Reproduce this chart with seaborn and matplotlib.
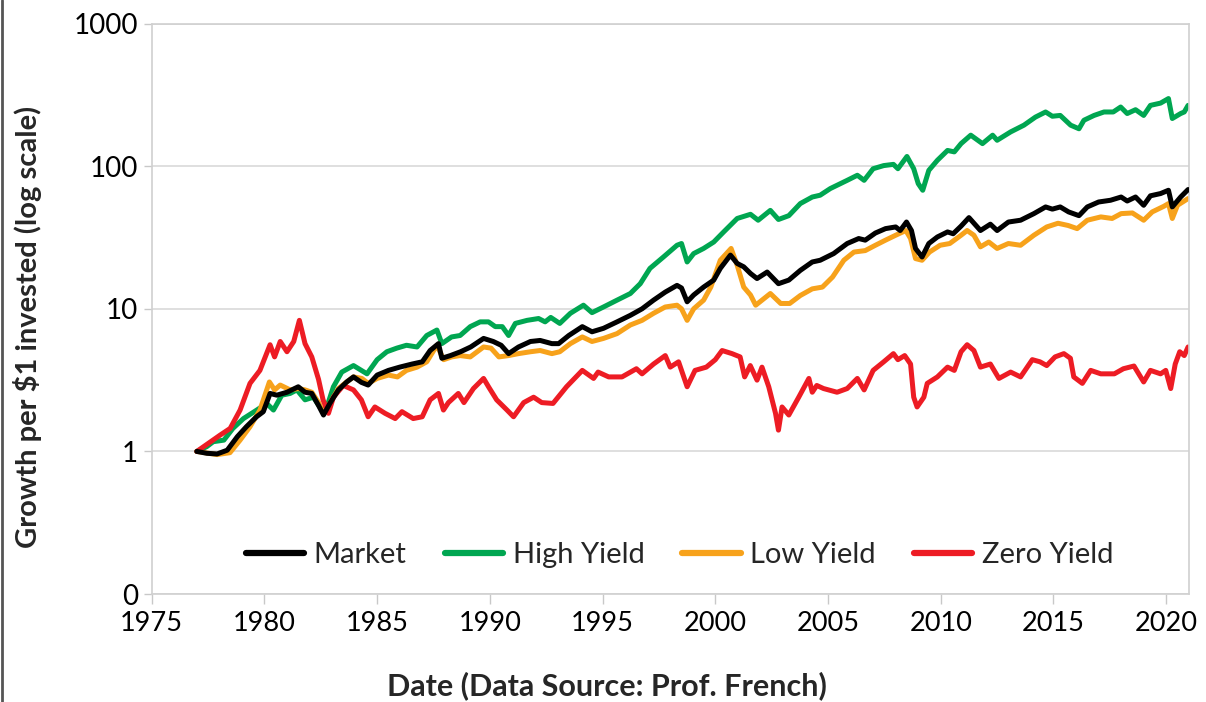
import matplotlib
matplotlib.use("Agg")

import matplotlib.pyplot as plt
import numpy as np
import pandas as pd
import seaborn as sns
from matplotlib.lines import Line2D
from matplotlib.ticker import FixedLocator, FixedFormatter, NullLocator

# values (growth of $1, log scale)
market_years = [
    1977.0, 1977.45, 1977.9, 1978.35, 1978.8, 1979.2, 1979.65, 1979.95, 1980.25, 1980.55,
    1981.0, 1981.5, 1981.8, 1982.1, 1982.4, 1982.62, 1982.9, 1983.28, 1983.65, 1983.95,
    1984.3, 1984.6, 1985.0, 1985.5, 1986.0, 1986.55, 1987.0, 1987.35, 1987.72, 1987.87,
    1988.25, 1988.7, 1989.15, 1989.72, 1990.15, 1990.5, 1990.83, 1991.27, 1991.8, 1992.23,
    1992.75, 1993.05, 1993.5, 1994.1, 1994.53, 1995.04, 1995.64, 1996.23, 1996.75, 1997.26,
    1997.78, 1998.3, 1998.5, 1998.75, 1999.04, 1999.48, 1999.93, 2000.22, 2000.67, 2000.97,
    2001.26, 2001.56, 2001.85, 2002.3, 2002.8, 2003.26, 2003.77, 2004.3, 2004.65, 2005.25,
    2005.85, 2006.36, 2006.65, 2007.1, 2007.55, 2008.0, 2008.2, 2008.48, 2008.7, 2008.88,
    2009.17, 2009.47, 2009.85, 2010.3, 2010.55, 2010.9, 2011.25, 2011.76, 2012.2, 2012.5,
    2013.0, 2013.54, 2014.13, 2014.65, 2014.95, 2015.3, 2015.67, 2016.13, 2016.5, 2017.0,
    2017.53, 2018.0, 2018.27, 2018.64, 2019.0, 2019.3, 2019.75, 2020.1, 2020.27, 2020.64,
    2020.97,
]
market_vals = [
    1.00, 0.97, 0.96, 1.02, 1.27, 1.49, 1.75, 1.90, 2.55, 2.48,
    2.60, 2.84, 2.60, 2.55, 2.10, 1.80, 2.17, 2.70, 3.07, 3.33,
    3.05, 2.92, 3.43, 3.70, 3.90, 4.10, 4.25, 5.10, 5.70, 4.50,
    4.70, 5.00, 5.40, 6.20, 5.90, 5.55, 4.85, 5.40, 5.90, 6.00,
    5.70, 5.70, 6.50, 7.50, 6.90, 7.30, 8.10, 9.00, 10.0, 11.5,
    13.1, 14.6, 14.0, 11.2, 12.5, 14.2, 15.9, 19.2, 23.8, 20.8,
    19.7, 17.7, 16.3, 18.1, 15.0, 15.9, 18.6, 21.3, 21.9, 24.4,
    28.7, 31.1, 30.3, 34.0, 36.5, 37.5, 35.4, 40.6, 35.4, 26.5,
    23.1, 28.7, 31.9, 34.6, 33.6, 38.0, 43.6, 35.4, 39.2, 35.4,
    40.6, 41.8, 46.5, 51.8, 50.0, 51.8, 47.8, 45.0, 51.8, 56.1,
    57.7, 60.8, 57.0, 60.8, 53.2, 62.0, 64.3, 67.8, 51.8, 60.8,
    68.6,
]

high_years = [
    1977.0, 1977.44, 1977.73, 1978.2, 1978.6, 1979.07, 1979.66, 1980.1, 1980.4, 1980.77,
    1981.14, 1981.44, 1981.8, 1982.17, 1982.55, 1982.77, 1983.06, 1983.43, 1983.95, 1984.3,
    1984.55, 1985.0, 1985.43, 1985.87, 1986.3, 1986.77, 1987.2, 1987.65, 1987.87, 1988.3,
    1988.68, 1989.13, 1989.57, 1989.94, 1990.24, 1990.55, 1990.83, 1991.13, 1991.65, 1992.16,
    1992.45, 1992.7, 1993.1, 1993.57, 1994.15, 1994.53, 1995.04, 1995.64, 1996.23, 1996.67,
    1997.1, 1997.7, 1998.3, 1998.5, 1998.75, 1999.04, 1999.48, 1999.93, 2000.37, 2000.97,
    2001.56, 2001.9, 2002.44, 2002.8, 2003.26, 2003.77, 2004.3, 2004.65, 2005.1, 2005.85,
    2006.3, 2006.6, 2007.0, 2007.47, 2007.9, 2008.1, 2008.5, 2008.8, 2009.0, 2009.2,
    2009.47, 2009.85, 2010.3, 2010.6, 2010.9, 2011.33, 2011.85, 2012.3, 2012.5, 2013.1,
    2013.69, 2014.2, 2014.65, 2014.95, 2015.3, 2015.76, 2016.13, 2016.35, 2016.8, 2017.24,
    2017.65, 2017.98, 2018.27, 2018.64, 2019.0, 2019.3, 2019.75, 2020.1, 2020.27, 2020.64,
    2020.8, 2020.97,
]
high_vals = [
    1.00, 1.08, 1.17, 1.20, 1.45, 1.70, 1.95, 2.17, 1.95, 2.48,
    2.55, 2.70, 2.30, 2.40, 1.95, 2.05, 2.84, 3.60, 4.00, 3.70,
    3.50, 4.40, 5.00, 5.30, 5.55, 5.40, 6.50, 7.10, 5.70, 6.35,
    6.50, 7.50, 8.10, 8.10, 7.50, 7.50, 6.50, 7.90, 8.30, 8.55,
    8.10, 8.70, 7.90, 9.30, 10.6, 9.40, 10.3, 11.5, 12.8, 15.0,
    19.2, 23.1, 27.9, 28.7, 21.3, 24.4, 26.5, 29.4, 34.6, 43.0,
    46.0, 41.8, 49.0, 42.3, 45.0, 54.7, 60.8, 62.6, 69.7, 79.6,
    86.4, 79.6, 96.0, 101, 103, 96.0, 117, 96.0, 75.5, 67.8,
    93.5, 110, 129, 126, 144, 165, 144, 165, 152, 174,
    194, 221, 240, 224, 227, 194, 183, 210, 227, 240,
    240, 260, 234, 249, 227, 267, 277, 298, 216, 234,
    240, 267,
]

low_years = [
    1977.0, 1977.9, 1978.47, 1978.92, 1979.36, 1979.8, 1980.22, 1980.45, 1980.7, 1981.14,
    1981.5, 1981.8, 1982.1, 1982.4, 1982.62, 1982.9, 1983.28, 1983.65, 1983.95, 1984.32,
    1984.6, 1985.0, 1985.5, 1985.9, 1986.3, 1986.77, 1987.2, 1987.65, 1987.95, 1988.3,
    1988.68, 1989.13, 1989.72, 1990.05, 1990.4, 1990.83, 1991.27, 1991.8, 1992.23, 1992.75,
    1993.1, 1993.57, 1994.1, 1994.53, 1995.04, 1995.64, 1996.23, 1996.75, 1997.26, 1997.78,
    1998.3, 1998.5, 1998.75, 1999.04, 1999.48, 1999.8, 2000.22, 2000.7, 2000.97, 2001.26,
    2001.56, 2001.79, 2002.44, 2002.9, 2003.3, 2003.77, 2004.3, 2004.75, 2005.2, 2005.7,
    2006.15, 2006.65, 2007.1, 2007.55, 2008.0, 2008.45, 2008.66, 2008.88, 2009.17, 2009.5,
    2009.97, 2010.4, 2010.9, 2011.17, 2011.47, 2011.76, 2012.13, 2012.5, 2013.0, 2013.54,
    2014.13, 2014.7, 2015.2, 2015.65, 2016.05, 2016.5, 2017.1, 2017.6, 2018.0, 2018.5,
    2019.0, 2019.38, 2019.9, 2020.1, 2020.27, 2020.5, 2020.97,
]
low_vals = [
    1.00, 0.95, 0.98, 1.20, 1.49, 1.95, 3.07, 2.70, 2.92, 2.70,
    2.76, 2.70, 2.60, 2.20, 1.85, 2.17, 2.76, 3.07, 3.33, 3.25,
    3.00, 3.25, 3.43, 3.33, 3.70, 3.90, 4.25, 5.55, 4.40, 4.60,
    4.70, 4.60, 5.40, 5.30, 4.60, 4.70, 4.85, 5.00, 5.10, 4.85,
    5.00, 5.70, 6.35, 5.90, 6.20, 6.70, 7.70, 8.30, 9.30, 10.3,
    10.6, 10.0, 8.30, 10.0, 11.5, 14.2, 21.9, 26.5, 20.2, 14.2,
    12.5, 10.6, 12.8, 10.9, 10.9, 12.4, 13.8, 14.2, 16.7, 21.9,
    25.0, 25.6, 27.9, 30.3, 32.8, 35.4, 31.1, 22.5, 21.9, 25.0,
    27.9, 28.7, 32.8, 35.4, 32.8, 27.2, 29.4, 26.5, 28.7, 27.9,
    32.8, 37.5, 39.8, 38.4, 36.5, 41.8, 44.1, 43.0, 46.5, 47.0,
    41.8, 47.8, 52.4, 54.7, 43.0, 53.2, 59.3,
]

zero_years = [
    1977.0, 1978.03, 1978.48, 1978.92, 1979.36, 1979.8, 1980.25, 1980.45, 1980.7, 1981.0,
    1981.3, 1981.55, 1981.8, 1982.1, 1982.4, 1982.6, 1982.84, 1983.06, 1983.5, 1983.95,
    1984.3, 1984.6, 1984.9, 1985.35, 1985.8, 1986.1, 1986.6, 1987.0, 1987.35, 1987.72,
    1987.94, 1988.16, 1988.6, 1988.85, 1989.27, 1989.72, 1989.94, 1990.3, 1990.76, 1991.05,
    1991.5, 1991.94, 1992.3, 1992.8, 1993.4, 1994.1, 1994.6, 1994.8, 1995.27, 1995.86,
    1996.5, 1996.75, 1997.26, 1997.78, 1998.0, 1998.37, 1998.75, 1999.1, 1999.6, 2000.0,
    2000.3, 2000.74, 2001.1, 2001.3, 2001.55, 2001.85, 2002.07, 2002.37, 2002.67, 2002.8,
    2002.96, 2003.26, 2003.7, 2004.15, 2004.3, 2004.5, 2004.8, 2005.4, 2005.85, 2006.3,
    2006.6, 2007.0, 2007.47, 2007.9, 2008.1, 2008.4, 2008.66, 2008.8, 2008.95, 2009.25,
    2009.4, 2009.85, 2010.3, 2010.6, 2010.9, 2011.17, 2011.47, 2011.76, 2012.2, 2012.58,
    2013.1, 2013.54, 2014.06, 2014.4, 2014.7, 2015.07, 2015.46, 2015.75, 2015.9, 2016.28,
    2016.65, 2017.1, 2017.7, 2018.1, 2018.57, 2019.0, 2019.3, 2019.75, 2019.98, 2020.2,
    2020.4, 2020.6, 2020.8, 2020.97,
]
zero_vals = [
    1.00, 1.30, 1.45, 1.95, 3.00, 3.70, 5.60, 4.60, 5.90, 5.00,
    5.90, 8.30, 5.70, 4.60, 3.20, 2.30, 1.85, 2.40, 2.90, 2.70,
    2.30, 1.75, 2.05, 1.85, 1.70, 1.90, 1.70, 1.75, 2.30, 2.55,
    1.95, 2.20, 2.55, 2.20, 2.76, 3.25, 2.84, 2.30, 1.95, 1.75,
    2.20, 2.40, 2.20, 2.17, 2.84, 3.70, 3.25, 3.60, 3.33, 3.33,
    3.80, 3.50, 4.10, 4.70, 3.90, 4.25, 2.84, 3.70, 3.90, 4.40,
    5.10, 4.85, 4.60, 3.33, 4.00, 3.16, 3.90, 2.84, 1.85, 1.41,
    2.05, 1.80, 2.40, 3.25, 2.60, 2.90, 2.76, 2.60, 2.76, 3.25,
    2.70, 3.70, 4.25, 4.85, 4.40, 4.70, 4.10, 2.40, 2.05, 2.40,
    3.00, 3.33, 3.90, 3.70, 5.00, 5.60, 5.10, 3.90, 4.10, 3.25,
    3.60, 3.33, 4.40, 4.25, 4.00, 4.60, 4.85, 4.50, 3.33, 3.00,
    3.70, 3.50, 3.50, 3.80, 3.97, 3.07, 3.70, 3.50, 3.70, 2.76,
    4.10, 5.00, 4.70, 5.40,
]

series_names = ["Market", "High Yield", "Low Yield", "Zero Yield"]
series_colors = ["#000000", "#00A651", "#F7A21B", "#ED1C24"]

y_ticks = [0.1, 1, 10, 100, 1000]
y_tick_labels = ["0", "1", "10", "100", "1000"]
x_ticks = [1975, 1980, 1985, 1990, 1995, 2000, 2005, 2010, 2015, 2020]

frames = []
for name, yrs, vals in [
    ("Market", market_years, market_vals),
    ("High Yield", high_years, high_vals),
    ("Low Yield", low_years, low_vals),
    ("Zero Yield", zero_years, zero_vals),
]:
    frames.append(pd.DataFrame({"Year": yrs, "Growth": vals, "Series": name}))
df = pd.concat(frames, ignore_index=True)

sns.set_theme(style="white")
plt.rcParams["font.family"] = ["Lato", "DejaVu Sans"]

fig = plt.figure(figsize=(12.06, 7.02), dpi=100)
ax = fig.add_axes([0.1258, 0.1538, 0.8599, 0.8126])

sns.lineplot(
    data=df, x="Year", y="Growth", hue="Series",
    hue_order=series_names, palette=series_colors,
    linewidth=3.6, estimator=None, ax=ax,
)
for line in ax.get_lines():
    line.set_solid_joinstyle("round")
# market line drawn on top
ax.get_lines()[0].set_zorder(5)

ax.set_yscale("log")
ax.set_ylim(0.1, 1000)
ax.set_xlim(1975, 2021)
ax.yaxis.set_major_locator(FixedLocator(y_ticks))
ax.yaxis.set_major_formatter(FixedFormatter(y_tick_labels))
ax.yaxis.set_minor_locator(NullLocator())
ax.set_xticks(x_ticks)
ax.set_xticklabels([str(t) for t in x_ticks])

ax.grid(axis="y", color="#d9d9d9", linewidth=1.2)
ax.grid(axis="x", visible=False)
for side in ["left", "right", "top", "bottom"]:
    ax.spines[side].set_color("#d0d0d0")
    ax.spines[side].set_linewidth(1.2)

ax.tick_params(axis="y", which="major", direction="out", length=6, width=1,
               color="#c8c8c8", labelsize=20, labelcolor="black", pad=4, left=True)
ax.tick_params(axis="x", which="major", direction="out", length=7, width=1,
               color="#c8c8c8", labelsize=19.5, labelcolor="black", pad=5, bottom=True)

ax.set_xlabel("Date (Data Source: Prof. French)", fontsize=22, fontweight="bold")
ax.set_ylabel("Growth per $1 invested (log scale)", fontsize=21, fontweight="bold")
ax.xaxis.set_label_coords(0.439, -0.136)
ax.yaxis.set_label_coords(-0.106, 0.468)

handles = [Line2D([0], [0], color=c, linewidth=4.5) for c in series_colors]
ax.legend(handles, series_names, loc="center", bbox_to_anchor=(0.509, 0.068), ncol=4,
          frameon=False, fontsize=21, handlelength=2.0, handletextpad=0.33,
          columnspacing=1.3)

# dark border on the far left edge of the picture
fig.add_artist(Line2D([0.002, 0.002], [0, 1], color="#555555", linewidth=2,
                      transform=fig.transFigure))

fig.savefig("out.png", dpi=100)
